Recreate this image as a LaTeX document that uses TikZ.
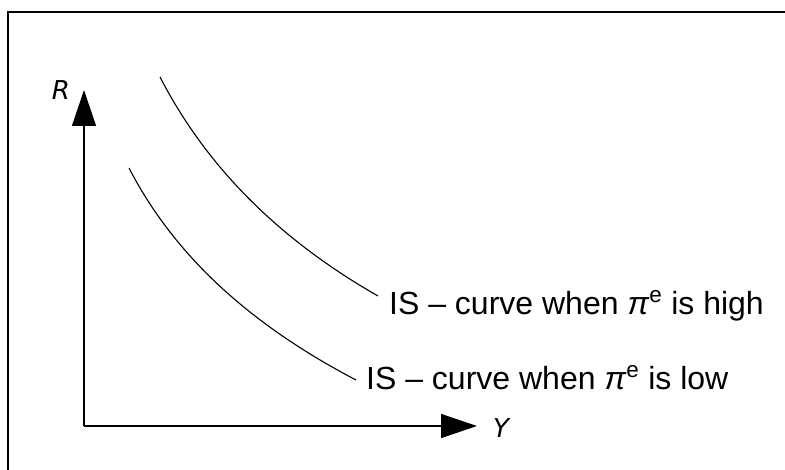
\documentclass[tikz,border=0pt]{standalone}
\usepackage{fontspec}
\setmainfont{Liberation Sans}
\newfontfamily\axisfont{DejaVu Sans}
\usetikzlibrary{arrows.meta,positioning}

\begin{document}
\begin{tikzpicture}[x=1pt, y=-1pt, >={Triangle[length=36pt,width=24pt]}, font=\fontsize{32}{38}\selectfont]
\tikzset{axis/.style={line width=1.4pt, ->},
  iscurve/.style={line width=1.1pt},
  axislbl/.style={font=\fontsize{26}{30}\axisfont\itshape\selectfont, inner sep=0pt},
  islbl/.style={anchor=base west, inner sep=0pt}}
\useasboundingbox (0,0) rectangle (785,470);
\draw[line width=1.8pt] (8,470) -- (8,12) -- (785,12);
% axes
\coordinate (O) at (84,426);
\coordinate (Rtip) at (84,90);
\coordinate (Ytip) at (477,426);
\draw[axis] (O) -- (Rtip);
\draw[axis] (O) -- (Ytip);
\node[axislbl] (R) at (61,90) {R};
\node[axislbl] (Y) at (501,428) {Y};
% IS curves
\coordinate (hiA) at (160,77);
\coordinate (hiB) at (378,296);
\draw[iscurve] (hiA) .. controls (207,168) and (280,240) .. (hiB);
\coordinate (loA) at (129,168);
\coordinate (loB) at (356,380);
\draw[iscurve] (loA) .. controls (174,255) and (249,324) .. (loB);
\node[islbl] (hi) at (389,315) {IS – curve when \textit{π}\raisebox{3pt}{\textsuperscript{e}} is high};
\node[islbl] (lo) at (366,390) {IS – curve when \textit{π}\raisebox{3pt}{\textsuperscript{e}} is low};
\end{tikzpicture}
\end{document}
